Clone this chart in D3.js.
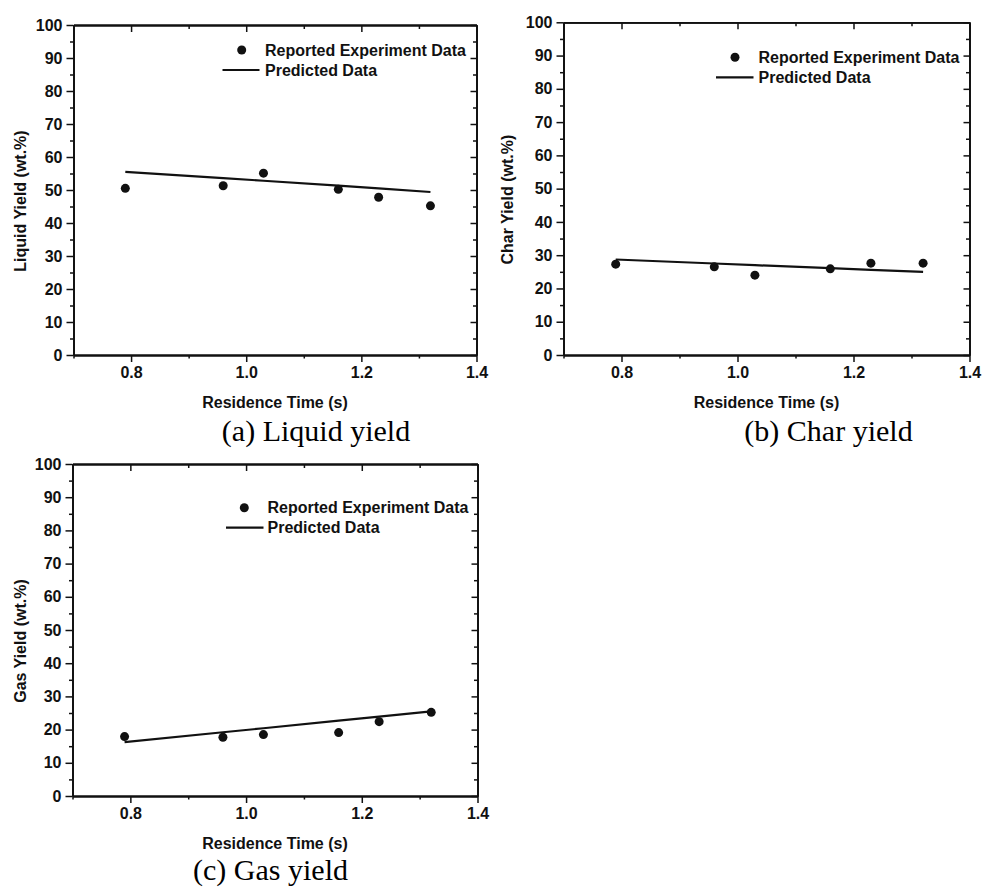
<!DOCTYPE html>
<html>
<head>
<meta charset="utf-8">
<script src="https://cdn.jsdelivr.net/npm/d3@7/dist/d3.min.js"></script>
<style>
  html, body { margin: 0; padding: 0; background: #fff; }
  svg { display: block; }
  .tick text { font-family: "Liberation Sans", Arial, sans-serif; font-weight: bold; }
</style>
</head>
<body>
<svg id="chart" width="982" height="888"></svg>
<script>
// Residence times (s) shared by all three yield panels
const residenceTime = [0.79, 0.96, 1.03, 1.16, 1.23, 1.32];

// Liquid yield (wt.%)
const liquidExperiment = [50.5, 51.3, 55.1, 50.2, 47.8, 45.2];
const liquidPredicted  = [55.5, 53.6, 52.8, 51.3, 50.5, 49.4];

// Char yield (wt.%)
const charExperiment = [27.3, 26.5, 24.0, 25.9, 27.6, 27.6];
const charPredicted  = [28.7, 27.5, 27.0, 26.1, 25.6, 25.0];

// Gas yield (wt.%)
const gasExperiment = [17.9, 17.7, 18.5, 19.1, 22.4, 25.2];
const gasPredicted  = [16.2, 19.2, 20.4, 22.7, 23.9, 25.5];

// Axis ticks
const xMajorTicks = [0.8, 1.0, 1.2, 1.4];
const xMinorTicks = [0.7, 0.9, 1.1, 1.3];
const yMajorTicks = [0, 10, 20, 30, 40, 50, 60, 70, 80, 90, 100];
const yMinorTicks = [5, 15, 25, 35, 45, 55, 65, 75, 85, 95];

const legendLabels = ["Reported Experiment Data", "Predicted Data"];
const xTitle = "Residence Time (s)";

const panels = [
  { yTitle: "Liquid Yield (wt.%)", caption: "(a) Liquid yield",
    exp: liquidExperiment, pred: liquidPredicted,
    box: { x0: 73.5, x1: 476.5, y0: 25, y1: 355 },
    legend: { dotX: 241.7, y: 50, lineX0: 222.5, lineX1: 259.5, textX: 265 },
    yTitleX: 25.5, captionX: 316, captionY: 441 },
  { yTitle: "Char Yield (wt.%)", caption: "(b) Char yield",
    exp: charExperiment, pred: charPredicted,
    box: { x0: 563.5, x1: 969.5, y0: 22.3, y1: 355 },
    legend: { dotX: 735, y: 57.3, lineX0: 716, lineX1: 753.5, textX: 758.5 },
    yTitleX: 512.5, captionX: 828.5, captionY: 441 },
  { yTitle: "Gas Yield (wt.%)", caption: "(c) Gas yield",
    exp: gasExperiment, pred: gasPredicted,
    box: { x0: 72.5, x1: 477.5, y0: 464, y1: 796 },
    legend: { dotX: 244.3, y: 507.7, lineX0: 226, lineX1: 263.5, textX: 267.5 },
    yTitleX: 25.5, captionX: 270.5, captionY: 880 }
];

const ink = "#111";
const sans = "'Liberation Sans', Arial, sans-serif";
const serif = "'Liberation Serif', 'Times New Roman', serif";
const fs = "16px";
const svg = d3.select("#chart");

panels.forEach(p => {
  const b = p.box;
  const x = d3.scaleLinear().domain([0.7, 1.4]).range([b.x0, b.x1]);
  const y = d3.scaleLinear().domain([0, 100]).range([b.y1, b.y0]);
  const g = svg.append("g");

  function styleAxis(sel) {
    sel.select(".domain").attr("stroke", ink).attr("stroke-width", 1.8);
    sel.selectAll(".tick line").attr("stroke", ink).attr("stroke-width", 1.5);
    sel.selectAll(".tick text").attr("fill", ink).style("font-size", fs);
  }

  // bottom axis: outward ticks with labels
  g.append("g").attr("transform", `translate(0,${b.y1})`)
    .call(d3.axisBottom(x).tickValues(xMinorTicks).tickSize(3.5).tickFormat("").tickSizeOuter(0))
    .call(styleAxis);
  g.append("g").attr("transform", `translate(0,${b.y1})`)
    .call(d3.axisBottom(x).tickValues(xMajorTicks).tickSize(7).tickPadding(5)
      .tickFormat(d3.format(".1f")).tickSizeOuter(0))
    .call(styleAxis);

  // top axis: inward ticks, no labels
  g.append("g").attr("transform", `translate(0,${b.y0})`)
    .call(d3.axisTop(x).tickValues(xMinorTicks).tickSize(-4).tickFormat("").tickSizeOuter(0))
    .call(styleAxis);
  g.append("g").attr("transform", `translate(0,${b.y0})`)
    .call(d3.axisTop(x).tickValues(xMajorTicks).tickSize(-7).tickFormat("").tickSizeOuter(0))
    .call(styleAxis);

  // left axis: outward ticks with labels
  g.append("g").attr("transform", `translate(${b.x0},0)`)
    .call(d3.axisLeft(y).tickValues(yMinorTicks).tickSize(3.5).tickFormat("").tickSizeOuter(0))
    .call(styleAxis);
  g.append("g").attr("transform", `translate(${b.x0},0)`)
    .call(d3.axisLeft(y).tickValues(yMajorTicks).tickSize(7).tickPadding(4)
      .tickFormat(d3.format("d")).tickSizeOuter(0))
    .call(styleAxis);

  // right axis: inward ticks, no labels
  g.append("g").attr("transform", `translate(${b.x1},0)`)
    .call(d3.axisRight(y).tickValues(yMinorTicks).tickSize(-3.5).tickFormat("").tickSizeOuter(0))
    .call(styleAxis);
  g.append("g").attr("transform", `translate(${b.x1},0)`)
    .call(d3.axisRight(y).tickValues(yMajorTicks).tickSize(-6).tickFormat("").tickSizeOuter(0))
    .call(styleAxis);

  // predicted line
  const line = d3.line().x(d => x(d[0])).y(d => y(d[1]));
  g.append("path")
    .datum(residenceTime.map((t, i) => [t, p.pred[i]]))
    .attr("d", line).attr("fill", "none").attr("stroke", ink).attr("stroke-width", 2.2);

  // experimental points
  g.selectAll("circle.exp")
    .data(residenceTime.map((t, i) => [t, p.exp[i]]))
    .join("circle").attr("class", "exp")
    .attr("cx", d => x(d[0])).attr("cy", d => y(d[1])).attr("r", 4.5).attr("fill", ink);

  // legend
  const L = p.legend;
  g.append("circle").attr("cx", L.dotX).attr("cy", L.y).attr("r", 4.5).attr("fill", ink);
  g.append("line").attr("x1", L.lineX0).attr("x2", L.lineX1)
    .attr("y1", L.y + 20).attr("y2", L.y + 20).attr("stroke", ink).attr("stroke-width", 2.2);
  legendLabels.forEach((lab, i) => {
    g.append("text").attr("x", L.textX).attr("y", L.y + 20 * i)
      .attr("dy", "0.36em")
      .attr("font-family", sans).attr("font-weight", "bold").attr("font-size", fs)
      .attr("fill", ink).text(lab);
  });

  // axis titles
  g.append("text").attr("x", (b.x0 + b.x1) / 2).attr("y", b.y1 + 47).attr("dy", "0.36em")
    .attr("text-anchor", "middle")
    .attr("font-family", sans).attr("font-weight", "bold").attr("font-size", fs)
    .attr("fill", ink).text(xTitle);
  const cy = (b.y0 + b.y1) / 2 + 11;
  g.append("text")
    .attr("transform", `translate(${p.yTitleX},${cy}) rotate(-90)`)
    .attr("text-anchor", "middle")
    .attr("font-family", sans).attr("font-weight", "bold").attr("font-size", fs)
    .attr("fill", ink).text(p.yTitle);

  // caption
  svg.append("text").attr("x", p.captionX).attr("y", p.captionY)
    .attr("text-anchor", "middle")
    .attr("font-family", serif).attr("font-size", "30px")
    .attr("fill", "#000").text(p.caption);
});
</script>
</body>
</html>
